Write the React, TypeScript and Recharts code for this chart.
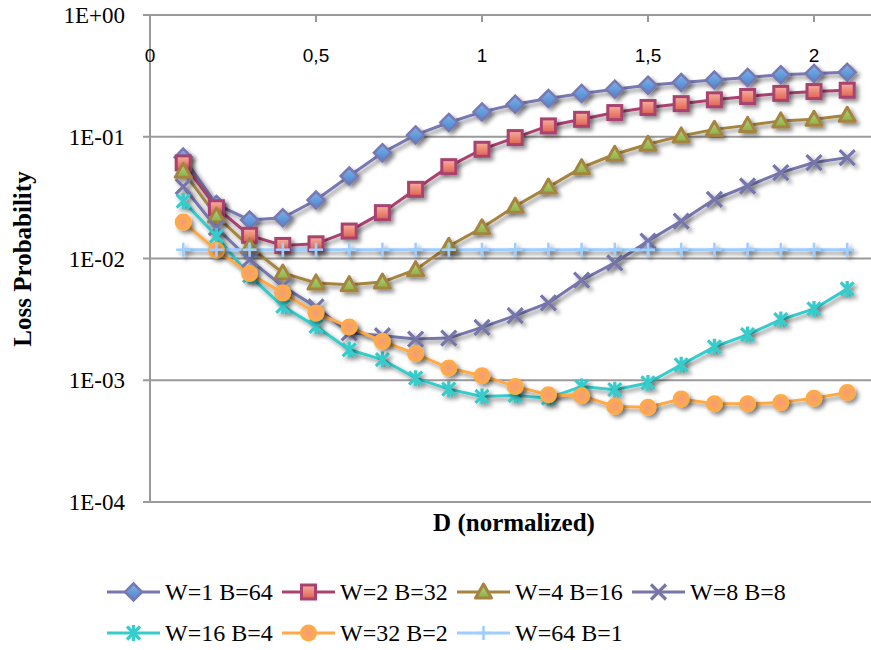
import React from 'react';
import { LineChart, Line, XAxis, YAxis, ReferenceLine } from 'recharts';

const dValues = [0.1, 0.2, 0.3, 0.4, 0.5, 0.6, 0.7, 0.8, 0.9, 1.0, 1.1, 1.2, 1.3, 1.4, 1.5, 1.6, 1.7, 1.8, 1.9, 2.0, 2.1];

const seriesNames = ['W=1 B=64', 'W=2 B=32', 'W=4 B=16', 'W=8 B=8', 'W=16 B=4', 'W=32 B=2', 'W=64 B=1'];

const w1b64 = [0.068, 0.0278, 0.0207, 0.0216, 0.0302, 0.0476, 0.074, 0.1035, 0.131, 0.16, 0.185, 0.206, 0.227, 0.246, 0.265, 0.279, 0.292, 0.307, 0.323, 0.331, 0.338];
const w2b32 = [0.061, 0.0261, 0.0155, 0.0128, 0.0132, 0.0168, 0.0238, 0.037, 0.0568, 0.0789, 0.0984, 0.1227, 0.139, 0.158, 0.174, 0.187, 0.201, 0.214, 0.227, 0.235, 0.241];
const w4b16 = [0.052, 0.0223, 0.0125, 0.0076, 0.0063, 0.0061, 0.0064, 0.0081, 0.0126, 0.0179, 0.0269, 0.0386, 0.0557, 0.0718, 0.0867, 0.1016, 0.115, 0.124, 0.135, 0.139, 0.15];
const w8b8 = [0.039, 0.0179, 0.0098, 0.0059, 0.004, 0.00245, 0.00232, 0.00218, 0.00222, 0.00272, 0.0034, 0.00432, 0.00663, 0.00922, 0.0139, 0.0203, 0.0306, 0.0394, 0.0507, 0.0614, 0.0674];
const w16b4 = [0.0296, 0.0153, 0.0072, 0.00405, 0.00277, 0.00178, 0.00148, 0.00104, 0.000846, 0.000736, 0.00075, 0.000713, 0.00089, 0.000836, 0.00095, 0.00134, 0.00188, 0.00237, 0.00315, 0.00385, 0.00563];
const w32b2 = [0.0199, 0.0117, 0.00753, 0.00522, 0.00357, 0.00274, 0.00209, 0.00165, 0.00126, 0.00109, 0.00089, 0.00076, 0.000745, 0.00061, 0.0006, 0.0007, 0.00064, 0.00064, 0.000656, 0.000713, 0.000794];
const w64b1 = [0.0118, 0.0118, 0.0118, 0.0118, 0.0118, 0.0118, 0.0118, 0.0118, 0.0118, 0.0118, 0.0118, 0.0118, 0.0118, 0.0118, 0.0118, 0.0118, 0.0118, 0.0118, 0.0118, 0.0118, 0.0118];

const xTicks = [0, 0.5, 1, 1.5, 2];
const xTickLabels = ['0', '0,5', '1', '1,5', '2'];
const yTicks = [0.0001, 0.001, 0.01, 0.1, 1];
const yTickLabels = ['1E-04', '1E-03', '1E-02', '1E-01', '1E+00'];

const xTitle = 'D (normalized)';
const yTitle = 'Loss Probability';

const seriesValues = [w1b64, w2b32, w4b16, w8b8, w16b4, w32b2, w64b1];
const seriesKeys = ['s1', 's2', 's3', 's4', 's5', 's6', 's7'];

const rows = dValues.map((d, i) => {
  const r: any = { d };
  seriesKeys.forEach((k, j) => {
    r[k] = seriesValues[j][i];
  });
  return r;
});

const styles = [
  { stroke: '#7878b2', shape: 'diamond', fill: 'url(#gBlue)' },
  { stroke: '#a8436f', shape: 'square', fill: 'url(#gRed)' },
  { stroke: '#a5843f', shape: 'triangle', fill: 'url(#gGreen)' },
  { stroke: '#7676ac', shape: 'x', fill: 'none' },
  { stroke: '#36cccc', shape: 'star', fill: 'none' },
  { stroke: '#ffaa46', shape: 'circle', fill: 'url(#gOrange)' },
  { stroke: '#9ecdff', shape: 'plus', fill: 'none' },
];

const GRID = '#9a9a9a';

function Marker({ shape, cx, cy, stroke, fill, filter }: any) {
  let el: any = null;
  switch (shape) {
    case 'diamond':
      el = <path d={`M${cx},${cy - 8.5}L${cx + 8.5},${cy}L${cx},${cy + 8.5}L${cx - 8.5},${cy}Z`} fill={fill} stroke={stroke} strokeWidth={2.5} />;
      break;
    case 'square':
      el = <rect x={cx - 7} y={cy - 7} width={14} height={14} fill={fill} stroke={stroke} strokeWidth={3} />;
      break;
    case 'triangle':
      el = <path d={`M${cx},${cy - 8}L${cx + 8},${cy + 6}L${cx - 8},${cy + 6}Z`} fill={fill} stroke={stroke} strokeWidth={3} strokeLinejoin="round" />;
      break;
    case 'x':
      el = <path d={`M${cx - 7.5},${cy - 7.5}L${cx + 7.5},${cy + 7.5}M${cx + 7.5},${cy - 7.5}L${cx - 7.5},${cy + 7.5}`} stroke={stroke} strokeWidth={3.2} fill="none" />;
      break;
    case 'star':
      el = <path d={`M${cx - 6.5},${cy - 6.5}L${cx + 6.5},${cy + 6.5}M${cx + 6.5},${cy - 6.5}L${cx - 6.5},${cy + 6.5}M${cx},${cy - 8}L${cx},${cy + 8}`} stroke={stroke} strokeWidth={3.2} fill="none" />;
      break;
    case 'circle':
      el = <circle cx={cx} cy={cy} r={7.5} fill={fill} stroke={stroke} strokeWidth={2} />;
      break;
    case 'plus':
      el = <path d={`M${cx},${cy - 7}L${cx},${cy + 7}M${cx - 7},${cy}L${cx + 7},${cy}`} stroke={stroke} strokeWidth={2.5} fill="none" />;
      break;
  }
  return <g filter={filter}>{el}</g>;
}

const fmtX = (v: number) => {
  const i = xTicks.findIndex((t) => Math.abs(t - v) < 1e-9);
  return i >= 0 ? xTickLabels[i] : '';
};

const fmtY = (v: number) => {
  const e = Math.round(Math.log10(v));
  const idx = yTicks.findIndex((t) => Math.round(Math.log10(t)) === e);
  return idx >= 0 ? yTickLabels[idx] : '';
};

const legendCols = [107, 282, 457, 632];
const legendRows = [592, 633];

export default function App() {
  return (
    <div style={{ position: 'absolute', left: 0, top: 0, width: 871, height: 650, overflow: 'hidden', background: '#fff' }}>
      <svg width={0} height={0} style={{ position: 'absolute' }}>
        <defs>
          <filter id="shadow" filterUnits="userSpaceOnUse" x="0" y="0" width="871" height="650">
            <feDropShadow dx="3" dy="3" stdDeviation="2" floodColor="#000" floodOpacity="0.45" />
          </filter>
          <linearGradient id="gBlue" x1="0" y1="0" x2="0" y2="1">
            <stop offset="0" stopColor="#7fb2ea" />
            <stop offset="1" stopColor="#4a86cc" />
          </linearGradient>
          <linearGradient id="gRed" x1="0" y1="0" x2="0" y2="1">
            <stop offset="0" stopColor="#f7b0a0" />
            <stop offset="1" stopColor="#e0604e" />
          </linearGradient>
          <linearGradient id="gGreen" x1="0" y1="0" x2="0" y2="1">
            <stop offset="0" stopColor="#b8d67a" />
            <stop offset="1" stopColor="#8cb048" />
          </linearGradient>
          <radialGradient id="gOrange" cx="0.5" cy="0.5" r="0.5">
            <stop offset="0" stopColor="#f39a7a" />
            <stop offset="1" stopColor="#ffad4a" />
          </radialGradient>
        </defs>
      </svg>
      <LineChart width={871} height={650} data={rows} margin={{ top: 15, right: 0, bottom: 148, left: 0 }}>
        <XAxis
          type="number"
          dataKey="d"
          domain={[0, 721 / 332]}
          allowDataOverflow
          ticks={xTicks}
          interval={0}
          orientation="top"
          mirror
          height={1}
          axisLine={{ stroke: GRID, strokeWidth: 2 }}
          tickLine={{ stroke: GRID, strokeWidth: 2 }}
          tickSize={7}
          tickMargin={27}
          tick={{ fill: '#000', fontSize: 19, fontFamily: 'Liberation Sans, Arial, sans-serif' }}
          tickFormatter={fmtX}
        />
        <YAxis
          type="number"
          scale="log"
          domain={[0.0001, 1]}
          allowDataOverflow
          ticks={yTicks}
          interval={0}
          width={150}
          axisLine={{ stroke: GRID, strokeWidth: 2 }}
          tickLine={{ stroke: GRID, strokeWidth: 2 }}
          tickSize={7}
          tickMargin={18}
          tick={{ fill: '#000', fontSize: 23, fontFamily: 'Liberation Serif, serif' }}
          tickFormatter={fmtY}
        />
        {yTicks.map((t) => (
          <ReferenceLine key={`g${t}`} y={t} stroke={GRID} strokeWidth={2} />
        ))}
        {seriesKeys.map((k, j) => (
          <Line
            key={k}
            dataKey={k}
            type="linear"
            stroke={styles[j].stroke}
            strokeWidth={3}
            filter="url(#shadow)"
            isAnimationActive={false}
            dot={(p: any) => (
              <Marker key={`${k}-${p.index}`} shape={styles[j].shape} cx={p.cx} cy={p.cy} stroke={styles[j].stroke} fill={styles[j].fill} filter="url(#shadow)" />
            )}
            activeDot={false}
          />
        ))}
      </LineChart>
      <svg width={871} height={650} style={{ position: 'absolute', left: 0, top: 0, pointerEvents: 'none' }}>
        <text
          transform="translate(31,259) rotate(-90)"
          textAnchor="middle"
          fontSize={25}
          fontWeight="bold"
          fontFamily="Liberation Serif, serif"
          fill="#000"
        >
          {yTitle}
        </text>
        <text x={514} y={531} textAnchor="middle" fontSize={25} fontWeight="bold" fontFamily="Liberation Serif, serif" fill="#000">
          {xTitle}
        </text>
        {seriesNames.map((name, j) => {
          const row = j < 4 ? 0 : 1;
          const col = j < 4 ? j : j - 4;
          const x0 = legendCols[col];
          const cy = legendRows[row];
          return (
            <g key={name}>
              <line x1={x0} y1={cy} x2={x0 + 53} y2={cy} stroke={styles[j].stroke} strokeWidth={3} />
              <Marker shape={styles[j].shape} cx={x0 + 26.5} cy={cy} stroke={styles[j].stroke} fill={styles[j].fill} />
              <text x={x0 + 58} y={cy + 8} fontSize={24} fontFamily="Liberation Serif, serif" fill="#000">
                {name}
              </text>
            </g>
          );
        })}
      </svg>
    </div>
  );
}
